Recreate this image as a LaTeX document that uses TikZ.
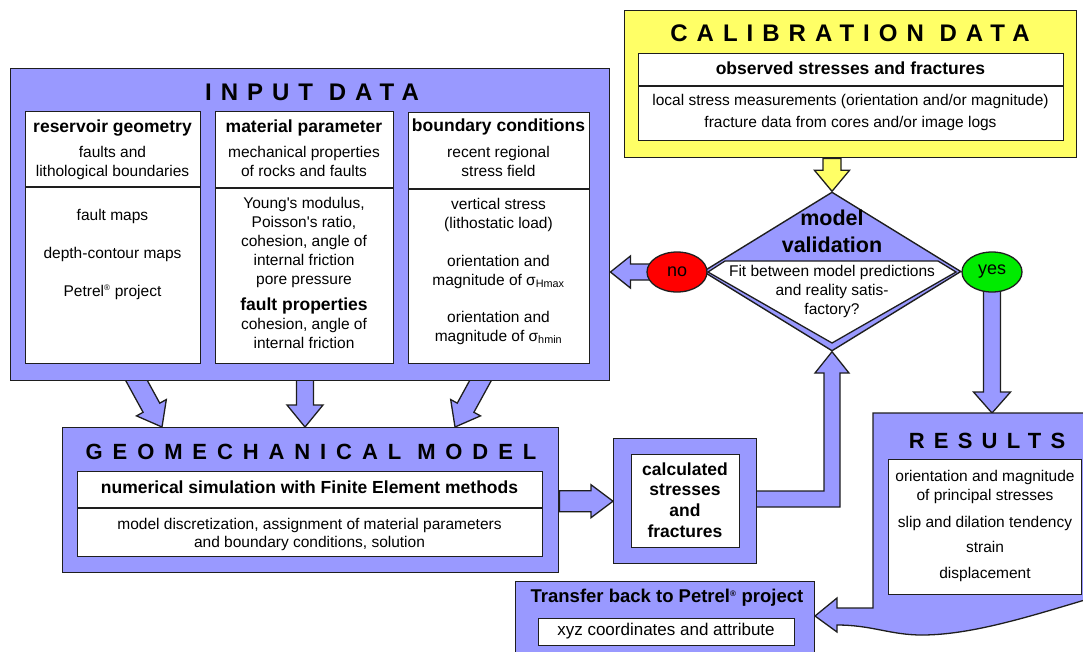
\documentclass[tikz,border=0pt]{standalone}
\usepackage{fontspec}
\setmainfont{Liberation Sans}
\newfontfamily\ttlfontA[LetterSpace=37.5]{Liberation Sans}
\newfontfamily\ttlfontB[LetterSpace=42]{Liberation Sans}
\newfontfamily\ttlfontC[LetterSpace=45]{Liberation Sans}
\usetikzlibrary{calc,shapes.geometric}
\pgfdeclarelayer{bg}
\pgfsetlayers{bg,main}
\definecolor{blu}{RGB}{153,153,255}
\definecolor{yel}{RGB}{255,255,102}
\definecolor{edge}{RGB}{30,30,30}
\definecolor{nored}{RGB}{255,0,0}
\definecolor{yesgreen}{RGB}{0,235,0}
\newcommand\fs[1]{\fontsize{#1}{#1}\selectfont}
\newcommand\reg{\textsuperscript{\fontsize{8}{8}\selectfont ®}}
\newcounter{tn}
\newcommand\lbl[3][tx]{\stepcounter{tn}\node[#1] (t\arabic{tn}) at (#2) {#3};}
% block arrow: [style] start, end, half shaft, half head, head length
\newcommand\barrow[6][]{%
  \path (#2) coordinate (bas) (#3) coordinate (bae);
  \path ($(bae)!#6!(bas)$) coordinate (bah);
  \filldraw[arr,#1] ($(bas)!#4!90:(bae)$) -- ($(bah)!#4!-90:(bas)$) -- ($(bah)!#5!-90:(bas)$)
    -- (bae) -- ($(bah)!#5!90:(bas)$) -- ($(bah)!#4!90:(bas)$) -- ($(bas)!#4!-90:(bae)$) -- cycle;}
\tikzset{
  bbox/.style={draw=edge, fill=blu, line width=1.4pt, inner sep=0pt, anchor=north west},
  ybox/.style={draw=edge, fill=yel, line width=1.4pt, inner sep=0pt, anchor=north west},
  wbox/.style={draw=edge, fill=white, line width=1.3pt, inner sep=0pt, anchor=north west},
  divline/.style={draw=edge, line width=1.3pt},
  arr/.style={draw=edge, fill=blu, line width=1.3pt, line join=miter},
  tx/.style={inner sep=0pt, font=\fs{15.5}, text height=11.5pt, text depth=3.5pt},
  tb/.style={inner sep=0pt, font=\bfseries\fs{17.5}, text height=13pt, text depth=3.6pt},
  tbig/.style={inner sep=0pt, font=\bfseries\fs{21.5}, text height=16pt, text depth=4.5pt},
  ttl/.style={inner sep=0pt, font=\ttlfontA\bfseries\fs{24}, text height=17.2pt, text depth=0pt},
  ttlb/.style={inner sep=0pt, font=\ttlfontB\bfseries\fs{22}, text height=15.8pt, text depth=0pt},
  ttlc/.style={inner sep=0pt, font=\ttlfontC\bfseries\fs{22}, text height=15.8pt, text depth=0pt},
  oval/.style={ellipse, draw=edge, line width=1.3pt, minimum width=60pt, minimum height=40pt, inner sep=0pt, font=\fs{18}}
}
\begin{document}
\begin{tikzpicture}[x=1pt,y=-1pt]
\useasboundingbox (0,0) rectangle (1083,651);
% ---------- INPUT DATA ----------
\node[bbox, minimum width=599pt, minimum height=312pt] (input) at (10,68) {};
\node[wbox, minimum width=175pt, minimum height=252pt] (col1) at (25,111) {};
\node[wbox, minimum width=178pt, minimum height=252pt] (col2) at (215,111) {};
\node[wbox, minimum width=181pt, minimum height=251pt] (col3) at (408,112) {};
\draw[divline] (25,187) -- (200,187);
\draw[divline] (215,188) -- (393,188);
\draw[divline] (408,189) -- (589,189);
\lbl[ttl]{312,92}{INPUT DATA}
\lbl[tb]{112.5,128}{reservoir geometry}
\lbl{112.5,153}{faults and}
\lbl{112.5,172}{lithological boundaries}
\lbl{112.5,216}{fault maps}
\lbl{112.5,254}{depth-contour maps}
\lbl{112.5,292}{Petrel\reg{} project}
\lbl[tb]{304,128}{material parameter}
\lbl{304,153}{mechanical properties}
\lbl{304,172}{of rocks and faults}
\lbl{304,204}{Young\textquotesingle s modulus,}
\lbl{304,223}{Poisson\textquotesingle s ratio,}
\lbl{304,242}{cohesion, angle of}
\lbl{304,261}{internal friction}
\lbl{304,280}{pore pressure}
\lbl[tb]{304,306}{fault properties}
\lbl{304,325}{cohesion, angle of}
\lbl{304,344}{internal friction}
\lbl[tb]{498.5,127}{boundary conditions}
\lbl{498.5,153}{recent regional}
\lbl{498.5,172}{stress field}
\lbl{498.5,205}{vertical stress}
\lbl{498.5,224}{(lithostatic load)}
\lbl{498.5,262}{orientation and}
\lbl{498.5,281}{magnitude of σ\textsubscript{Hmax}}
\lbl{498.5,318}{orientation and}
\lbl{498.5,337}{magnitude of σ\textsubscript{hmin}}
% ---------- CALIBRATION DATA ----------
\node[ybox, minimum width=452pt, minimum height=147pt] (calib) at (624,10) {};
\node[wbox, minimum width=425pt, minimum height=87pt] (calin) at (638,53) {};
\draw[divline] (638,86) -- (1063,86);
\lbl[ttl]{850,33}{CALIBRATION DATA}
\lbl[tb]{850.5,70}{observed stresses and fractures}
\lbl{850.5,101}{local stress measurements (orientation and/or magnitude)}
\lbl{850.5,123}{fracture data from cores and/or image logs}
% ---------- MODEL VALIDATION ----------
\node[diamond, draw=edge, fill=blu, line width=1.4pt, minimum width=258pt, minimum height=159pt, inner sep=0pt] (val) at (832,271.5) {};
\filldraw[draw=edge, fill=white, line width=1.3pt, line join=miter] (708,272) -- (725,261) -- (938,261) -- (956,272) -- (832,343) -- cycle;
\lbl[tbig]{832,220}{model}
\lbl[tbig]{832,247}{validation}
\lbl{832,272}{Fit between model predictions}
\lbl{832,291}{and reality satis-}
\lbl{832,310}{factory?}
\node[oval, fill=nored] (no) at (677,272) {no};
\node[oval, fill=yesgreen] (yes) at (992,272) {yes};
% ---------- GEOMECHANICAL MODEL ----------
\node[bbox, minimum width=496pt, minimum height=145pt] (geo) at (62,427) {};
\node[wbox, minimum width=465pt, minimum height=85pt] (geoin) at (77,471) {};
\draw[divline] (77,508) -- (542,508);
\lbl[ttlc]{311,452}{GEOMECHANICAL MODEL}
\lbl[tb]{309.5,489}{numerical simulation with Finite Element methods}
\lbl{309.5,525}{model discretization, assignment of material parameters}
\lbl{309.5,543}{and boundary conditions, solution}
% ---------- CALCULATED ----------
\node[bbox, minimum width=143pt, minimum height=125pt] (calc) at (613,438) {};
\node[wbox, minimum width=108pt, minimum height=93pt] (calcin) at (631,454) {};
\lbl[tb]{685,471}{calculated}
\lbl[tb]{685,491}{stresses}
\lbl[tb]{685,512}{and}
\lbl[tb]{685,533}{fractures}
% ---------- RESULTS ----------
\coordinate (restop) at (992,413);
\coordinate (transtip) at (815,616);
\filldraw[arr] (873,413) -- (1095,413) -- (1095,597)
  .. controls (1040,613) and (975,635) .. (922,635)
  .. controls (890,635) and (872,625) .. (837,625)
  -- (837,632) -- (transtip) -- (837,598) -- (837,608) -- (873,608) -- cycle;
\node[wbox, minimum width=193pt, minimum height=135pt] (resin) at (888,459) {};
\lbl[ttlb]{987,441}{RESULTS}
\lbl{985,477}{orientation and magnitude}
\lbl{985,496}{of principal stresses}
\lbl{985,523}{slip and dilation tendency}
\lbl{985,548}{strain}
\lbl{985,574}{displacement}
% ---------- TRANSFER ----------
\node[bbox, minimum width=299pt, minimum height=85pt] (trans) at (515,581) {};
\node[wbox, minimum width=256pt, minimum height=27pt] (transin) at (538,618) {};
\lbl[tb, font=\bfseries\fs{18.5}]{667,598}{Transfer back to Petrel\reg{} project}
\lbl[tx, font=\fs{17}]{666,631}{xyz coordinates and attribute}
% ---------- CONNECTORS (behind) ----------
\begin{pgfonlayer}{bg}
\coordinate (a1s) at (128,365); \coordinate (a1e) at (162,427);
\coordinate (a2s) at (305,370); \coordinate (a2e) at (305,427);
\coordinate (a3s) at (489,365); \coordinate (a3e) at (455,427);
\barrow{a1s}{a1e}{9.5pt}{17pt}{22pt}
\barrow{a2s}{a2e}{8.5pt}{18pt}{22pt}
\barrow{a3s}{a3e}{9.5pt}{17pt}{22pt}
\barrow{no.center}{input.east |- no.center}{8pt}{16pt}{20pt}
\barrow{yes.center}{restop}{8.5pt}{18.5pt}{21pt}
\barrow[fill=yel]{val.north |- calib.south}{val.north}{9pt}{17.5pt}{21pt}
\barrow{geo.east |- calc.west}{calc.west}{10.5pt}{16.5pt}{22pt}
\filldraw[arr] (745,491) -- (824,491) -- (824,373) -- (815,373) -- (val.south)
  -- (849,373) -- (840,373) -- (840,507) -- (745,507) -- cycle;
\end{pgfonlayer}
\end{tikzpicture}
\end{document}
